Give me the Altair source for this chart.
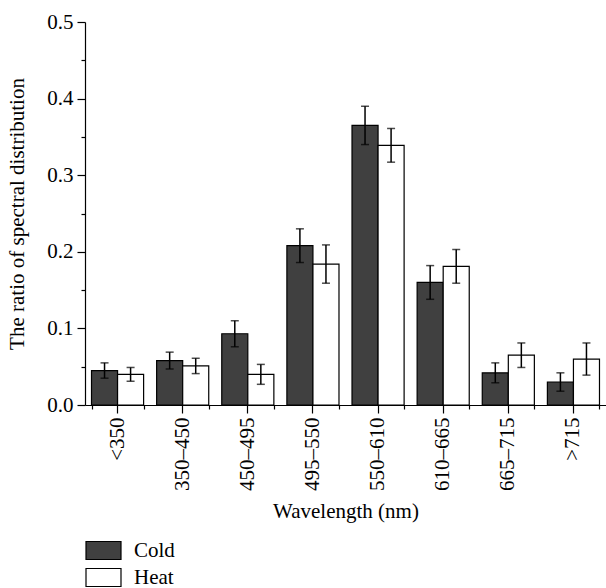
import altair as alt
import pandas as pd

categories = ["<350", "350–450", "450–495", "495–550", "550–610", "610–665", "665–715", ">715"]
groups = ["Cold", "Heat"]
cold_values = [0.045, 0.058, 0.093, 0.208, 0.365, 0.160, 0.042, 0.030]
cold_errors = [0.010, 0.011, 0.017, 0.022, 0.025, 0.022, 0.013, 0.012]
heat_values = [0.040, 0.051, 0.040, 0.184, 0.339, 0.181, 0.065, 0.060]
heat_errors = [0.009, 0.010, 0.013, 0.025, 0.022, 0.022, 0.016, 0.021]
y_major = [0.0, 0.1, 0.2, 0.3, 0.4, 0.5]
y_minor = [0.05, 0.15, 0.25, 0.35, 0.45]

rows = []
for c, v, e in zip(categories, cold_values, cold_errors):
    rows.append({"cat": c, "group": "Cold", "value": v, "lo": v - e, "hi": v + e})
for c, v, e in zip(categories, heat_values, heat_errors):
    rows.append({"cat": c, "group": "Heat", "value": v, "lo": v - e, "hi": v + e})
df = pd.DataFrame(rows)

FONT = "Liberation Serif"
FS = 21

xscale = alt.Scale(domain=categories, paddingInner=0.2, paddingOuter=0.1)
yscale = alt.Scale(domain=[0, 0.5], nice=False, zero=True)
offscale = alt.Scale(domain=groups, paddingInner=0, paddingOuter=0)

base = alt.Chart(df)

bars = base.mark_bar(stroke="black", strokeWidth=1.2).encode(
    x=alt.X("cat:N", scale=xscale, sort=categories,
            axis=alt.Axis(title="Wavelength (nm)", labelAngle=-90, tickSize=8,
                          labelPadding=4, orient="bottom", titlePadding=10)),
    xOffset=alt.XOffset("group:N", scale=offscale, sort=groups),
    y=alt.Y("value:Q", scale=yscale,
            axis=alt.Axis(title="The ratio of spectral distribution", values=y_major,
                          format=".1f", tickSize=8, labelPadding=4, orient="left",
                          titlePadding=19)),
    fill=alt.Fill("group:N", sort=groups,
                  scale=alt.Scale(domain=groups, range=["#404040", "#ffffff"]),
                  legend=alt.Legend(title=None, orient="none", legendX=8, legendY=518,
                                    symbolType="M-1.944,-1L1.944,-1L1.944,1L-1.944,1Z",
                                    symbolSize=324, symbolStrokeColor="black",
                                    symbolStrokeWidth=1.2, labelOffset=20,
                                    rowPadding=4, padding=0)),
)

rules = base.mark_rule(color="black", strokeWidth=1.5).encode(
    x=alt.X("cat:N", scale=xscale, sort=categories,
            axis=alt.Axis(title=None, labels=False, domain=False, tickBand="extent",
                          tickSize=4, orient="bottom")),
    xOffset=alt.XOffset("group:N", scale=offscale, sort=groups),
    y=alt.Y("lo:Q", scale=yscale,
            axis=alt.Axis(title=None, labels=False, domain=False, values=y_minor,
                          tickSize=4, orient="left")),
    y2="hi:Q",
)

caps_lo = base.mark_tick(color="black", orient="horizontal", size=8, thickness=1.5).encode(
    x=alt.X("cat:N", scale=xscale, sort=categories, axis=None),
    xOffset=alt.XOffset("group:N", scale=offscale, sort=groups),
    y=alt.Y("lo:Q", scale=yscale, axis=None),
)
caps_hi = base.mark_tick(color="black", orient="horizontal", size=8, thickness=1.5).encode(
    x=alt.X("cat:N", scale=xscale, sort=categories, axis=None),
    xOffset=alt.XOffset("group:N", scale=offscale, sort=groups),
    y=alt.Y("hi:Q", scale=yscale, axis=None),
)

chart = alt.layer(bars, rules, caps_lo, caps_hi).resolve_axis(
    x="independent", y="independent"
).properties(
    width=521, height=383,
    autosize=alt.AutoSizeParams(type="none"),
    padding={"left": 85, "top": 22, "right": 0, "bottom": 183},
).configure_view(stroke=None).configure_axis(
    labelFont=FONT, titleFont=FONT, labelFontSize=FS, titleFontSize=FS,
    labelColor="black", titleColor="black", titleFontWeight="normal",
    domainColor="black", tickColor="black", domainWidth=1.2, tickWidth=1.2, grid=False,
).configure_legend(
    labelFont=FONT, labelFontSize=FS, labelColor="black",
)

chart.save("out.html", embed_options={"renderer": "svg", "actions": False})
